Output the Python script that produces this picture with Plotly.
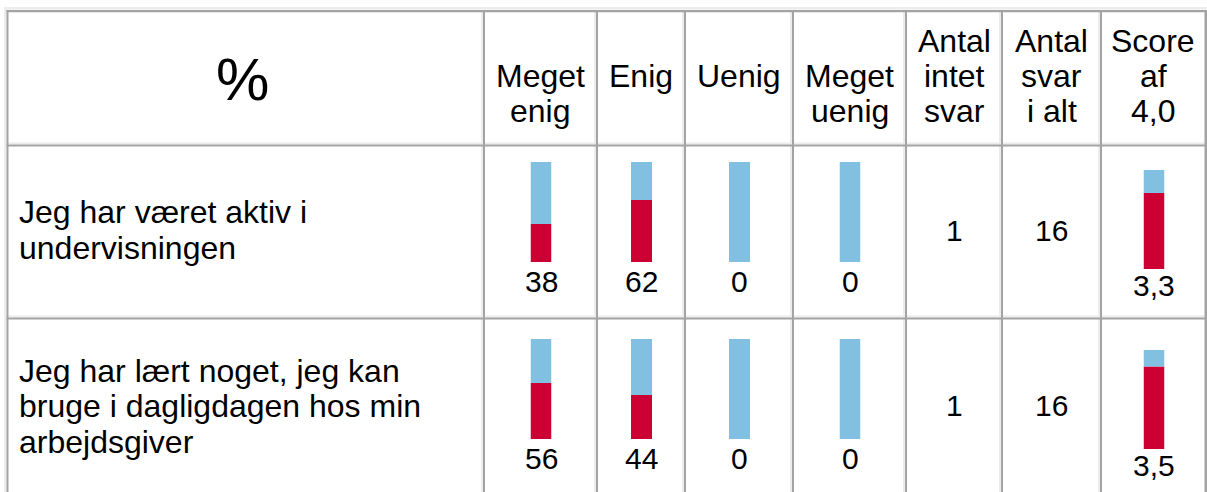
import plotly.graph_objects as go

# ---------------- data ----------------
header_corner = "%"
column_headers = [["Meget", "enig"], ["Enig"], ["Uenig"], ["Meget", "uenig"],
                  ["Antal", "intet", "svar"], ["Antal", "svar", "i alt"], ["Score", "af", "4,0"]]
statements = [["Jeg har været aktiv i", "undervisningen"],
              ["Jeg har lært noget, jeg kan", "bruge i dagligdagen hos min", "arbejdsgiver"]]
meget_enig = [38, 56]
enig = [62, 44]
uenig = [0, 0]
meget_uenig = [0, 0]
antal_intet_svar = [1, 1]
antal_svar_i_alt = [16, 16]
score = [3.3, 3.5]
score_min, score_max = 1.0, 4.0

# ---------------- layout helpers ----------------
W, H = 1207, 492
FONT = "Liberation Sans, Arial, Helvetica, sans-serif"
RED = "#cc0033"
BLUE = "#82c0e1"
DARK = "#a3a3a3"
LIGHT = "#ececec"

col_bounds = [7, 484, 597, 685, 793, 906, 1002, 1101, 1205]
row_bounds = [10, 145, 318, H + 10]
col_centers = [(col_bounds[i] + col_bounds[i + 1]) / 2 for i in range(len(col_bounds) - 1)]

pct_bar_top = [162, 339]
score_bar_top = [170, 350]
pct_bar_h = 100
score_bar_h = 99
bar_w = 21
mid_text_y = [230, 405]
label_line_y = [[212, 248], [371, 406, 442]]
header_line_y = {1: [76], 2: [76, 111], 3: [41, 76, 111]}

def px(x):
    return x / W

def py(y):
    return 1 - y / H

fig = go.Figure()
shapes = []
annotations = []

def rect(x0, y0, x1, y1, color):
    shapes.append(dict(type="rect", xref="paper", yref="paper",
                       x0=px(x0), x1=px(x1), y0=py(y1), y1=py(y0),
                       fillcolor=color, line=dict(width=0), layer="below"))

# table frame: light (bottom/right of cells) then dark (top/left of cells)
rect(4, 7, W, 9.5, LIGHT)
rect(4, 7, 6.5, H, LIGHT)
for xb in col_bounds[1:-1]:
    rect(xb - 3, 10, xb - 1, H, LIGHT)
for yb in row_bounds[1:-1]:
    rect(6.5, yb - 2.5, W - 2, yb - 0.5, LIGHT)
rect(6.5, 10, 8.5, H, DARK)
rect(6.5, 10, W - 2, 12.3, DARK)
for xb in col_bounds[1:-1]:
    rect(xb - 1, 10, xb + 1, H, DARK)
for yb in row_bounds[1:-1]:
    rect(6.5, yb - 0.5, W - 2, yb + 1.5, DARK)
rect(W - 2.5, 10, W, H, DARK)

def text(x, y, s, size=32, xanchor="center"):
    annotations.append(dict(xref="paper", yref="paper", x=px(x), y=py(y), text=s,
                            showarrow=False, xanchor=xanchor, yanchor="middle",
                            font=dict(family=FONT, size=size, color="#000000")))

# header
text((col_bounds[0] + col_bounds[1]) / 2 - 3, 79, header_corner, size=60)
for ci, lines in enumerate(column_headers):
    ys = header_line_y[len(lines)]
    for line, yy in zip(lines, ys):
        text(col_centers[ci + 1], yy, line)

# rows
pct_series = [meget_enig, enig, uenig, meget_uenig]
axis_n = 0
layout_axes = {}

def add_bar_cell(cx, top, h, lo, hi, value, label, label_size, yshift):
    global axis_n
    axis_n += 1
    n = axis_n
    xa = "x" if n == 1 else f"x{n}"
    ya = "y" if n == 1 else f"y{n}"
    key = "" if n == 1 else str(n)
    layout_axes[f"xaxis{key}"] = dict(domain=[px(cx - bar_w / 2), px(cx + bar_w / 2)],
                                      range=[-0.5, 0.5], visible=False, fixedrange=True,
                                      anchor=ya)
    layout_axes[f"yaxis{key}"] = dict(domain=[py(top + h), py(top)], range=[lo, hi],
                                      visible=False, fixedrange=True, anchor=xa)
    fig.add_trace(go.Bar(x=[0], y=[value - lo], base=[lo], width=1,
                         marker=dict(color=RED, line=dict(width=0)),
                         xaxis=xa, yaxis=ya, hoverinfo="skip", showlegend=False))
    fig.add_trace(go.Bar(x=[0], y=[hi - value], base=[value], width=1,
                         marker=dict(color=BLUE, line=dict(width=0)),
                         xaxis=xa, yaxis=ya, hoverinfo="skip", showlegend=False))
    annotations.append(dict(xref=f"{xa} domain", yref=f"{ya} domain", x=0.5, y=0,
                            xanchor="center", yanchor="top", yshift=yshift, showarrow=False,
                            text=label, font=dict(family=FONT, size=label_size, color="#000000")))

for r in range(len(statements)):
    for li, line in enumerate(statements[r]):
        text(17, label_line_y[r][li], line, xanchor="left")
    for ci, series in enumerate(pct_series):
        v = series[r]
        add_bar_cell(col_centers[ci + 1] + 0.5, pct_bar_top[r], pct_bar_h, 0, 100, v, f"{v}", 30, -1)
    text(col_centers[5], mid_text_y[r], str(antal_intet_svar[r]), size=30)
    text(col_centers[6], mid_text_y[r], str(antal_svar_i_alt[r]), size=30)
    s = score[r]
    add_bar_cell(col_centers[7] + 1, score_bar_top[r], score_bar_h, score_min, score_max, s,
                 f"{s:.1f}".replace(".", ","), 30, 2)

fig.update_layout(width=W, height=H, margin=dict(l=0, r=0, t=0, b=0),
                  paper_bgcolor="white", plot_bgcolor="rgba(0,0,0,0)",
                  barmode="overlay", showlegend=False,
                  shapes=shapes, annotations=annotations, **layout_axes)
fig.write_html("out.html", config={"displayModeBar": False},
               post_script="document.body.style.margin='0px';document.body.style.overflow='hidden';")
